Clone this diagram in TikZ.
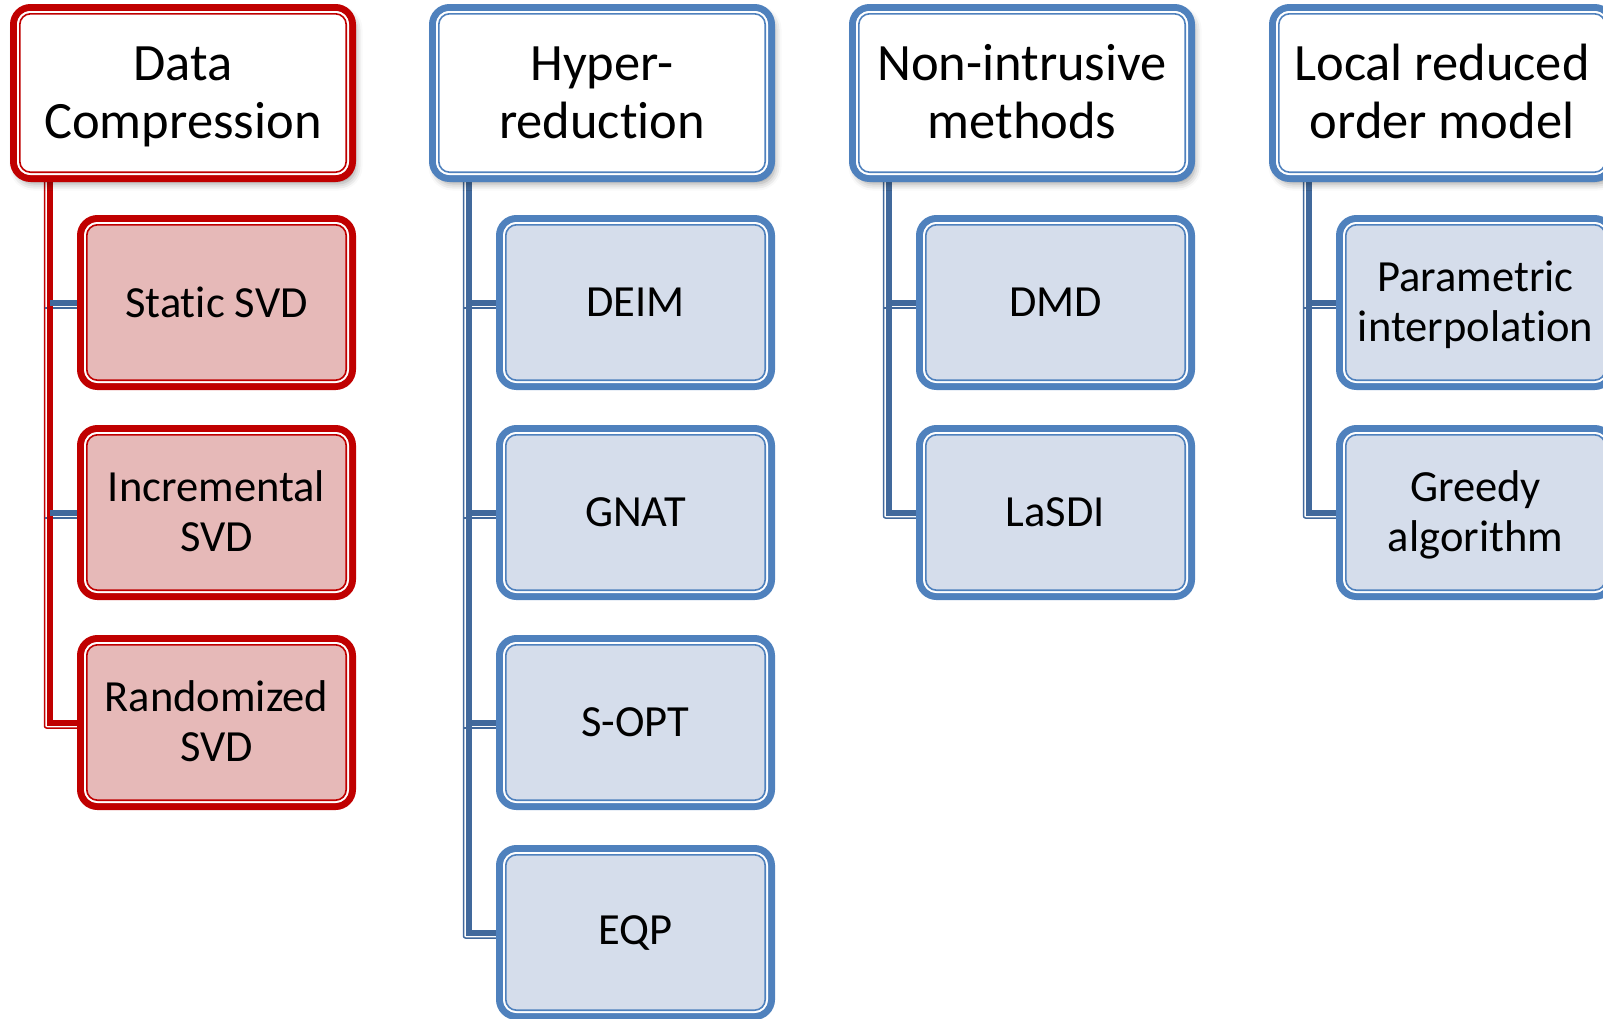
\documentclass[tikz,border=0pt]{standalone}
\usepackage{fontspec}
\setmainfont{Carlito}[Ligatures={NoCommon}]
\usetikzlibrary{shadows.blur}
\definecolor{redline}{HTML}{C00000}
\definecolor{redfill}{HTML}{E6B9B8}
\definecolor{blueline}{HTML}{4F81BD}
\definecolor{bluefill}{HTML}{D5DDEB}
\definecolor{linkblue}{HTML}{41699C}
\pgfdeclarelayer{background}
\pgfsetlayers{background,main}
% two centred lines with fixed top and bottom struts
\newcommand\twolines[2]{\rule{0pt}{0.9em}#1\\#2\rule[-0.27em]{0pt}{0.27em}}

\begin{document}
\begin{tikzpicture}[x=1pt,y=-1pt,
  box/.style={rectangle, rounded corners=17pt, line width=7pt, outer sep=0pt,
    inner sep=0pt, align=center, text=black},
  head/.style={box, minimum width=339pt, minimum height=171pt, fill=white,
    font=\fontsize{52.5}{58}\selectfont,
    blur shadow={shadow xshift=3pt, shadow yshift=-5pt, shadow blur radius=7pt, shadow opacity=40}},
  leaf/.style={box, minimum width=272pt, minimum height=168pt,
    font=\fontsize{44.5}{50}\selectfont},
  redhead/.style={head, draw=redline},
  bluehead/.style={head, draw=blueline},
  redleaf/.style={leaf, draw=redline, fill=redfill},
  blueleaf/.style={leaf, draw=blueline, fill=bluefill},
  link/.style={line width=6pt},
  rim/.style={line width=1.5pt, rounded corners=2pt}]

\useasboundingbox (0,0) rectangle (1603,1018);
\clip (0,0) rectangle (1603,1018);

% column headers
\node[redhead]  (h1) at (183,93)  {\twolines{Data}{Compression}};
\node[bluehead] (h2) at (602,93)  {\twolines{Hyper-}{reduction}};
\node[bluehead] (h3) at (1022,93) {\twolines{Non-intrusive}{methods}};
\node[bluehead] (h4) at (1442,93) {\twolines{Local reduced}{order model}};

% methods under each heading
\node[redleaf] (c11) at (216.5,302.5) {Static SVD};
\node[redleaf] (c12) at (216.5,512.5) {\twolines{Incremental}{SVD}};
\node[redleaf] (c13) at (216.5,722.5) {\twolines{Randomized}{SVD}};

\node[blueleaf] (c21) at (635.5,302.5) {DEIM};
\node[blueleaf] (c22) at (635.5,512.5) {GNAT};
\node[blueleaf] (c23) at (635.5,722.5) {S-OPT};
\node[blueleaf] (c24) at (635.5,932.5) {EQP};

\node[blueleaf] (c31) at (1055.5,302.5) {DMD};
\node[blueleaf] (c32) at (1055.5,512.5) {LaSDI};

\node[blueleaf] (c41) at (1475.5,302.5) {\twolines{Parametric}{interpolation}};
\node[blueleaf] (c42) at (1475.5,512.5) {\twolines{Greedy}{algorithm}};

% inner double rim of every box
\foreach \n/\c in {h1/redline,c11/redline,c12/redline,c13/redline,
    h2/blueline,c21/blueline,c22/blueline,c23/blueline,c24/blueline,
    h3/blueline,c31/blueline,c32/blueline,
    h4/blueline,c41/blueline,c42/blueline}{
  \draw[white, line width=2pt, rounded corners=12.5pt]
    ([shift={(4.5pt,-4.5pt)}]\n.north west) rectangle ([shift={(-4.5pt,4.5pt)}]\n.south east);
  \draw[\c, line width=1.6pt, rounded corners=10.7pt]
    ([shift={(6.3pt,-6.3pt)}]\n.north west) rectangle ([shift={(-6.3pt,6.3pt)}]\n.south east);
}

% tree connectors, behind the boxes
\begin{pgfonlayer}{background}
  \foreach \h in {h1,h2,h3,h4}{
    \coordinate (t\h) at ([xshift=-133pt]\h.south);
    \coordinate (s\h) at ([xshift=-138.5pt]\h.south);
  }
  \foreach \c in {c11,c12,c13,c21,c22,c23,c24,c31,c32,c41,c42}{
    \coordinate (d\c) at ([yshift=-5.5pt]\c.west);
  }
  % column 1
  \draw[rim, redline] (sh1) |- (dc13);
  \draw[rim, linkblue] (dc11 -| sh1) -- (dc11);
  \draw[rim, linkblue] (dc12 -| sh1) -- (dc12);
  \draw[link, redline] (th1) |- (c13.west);
  \draw[link, linkblue] (th1 |- c11.west) -- (c11.west);
  \draw[link, linkblue] (th1 |- c12.west) -- (c12.west);
  % column 2
  \draw[rim, linkblue] (sh2) |- (dc24);
  \foreach \c in {c21,c22,c23}{
    \draw[rim, linkblue] (d\c -| sh2) -- (d\c);
    \draw[link, linkblue] (th2 |- \c.west) -- (\c.west);
  }
  \draw[link, linkblue] (th2) |- (c24.west);
  % column 3
  \draw[rim, linkblue] (sh3) |- (dc32);
  \draw[rim, linkblue] (dc31 -| sh3) -- (dc31);
  \draw[link, linkblue] (th3) |- (c32.west);
  \draw[link, linkblue] (th3 |- c31.west) -- (c31.west);
  % column 4
  \draw[rim, linkblue] (sh4) |- (dc42);
  \draw[rim, linkblue] (dc41 -| sh4) -- (dc41);
  \draw[link, linkblue] (th4) |- (c42.west);
  \draw[link, linkblue] (th4 |- c41.west) -- (c41.west);
\end{pgfonlayer}
\end{tikzpicture}
\end{document}
